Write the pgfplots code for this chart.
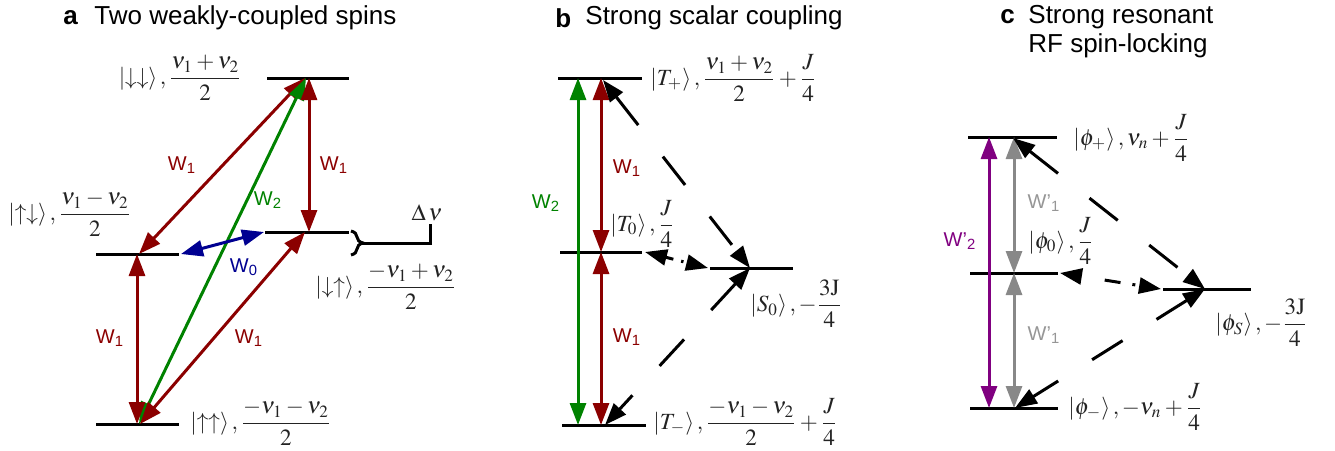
\documentclass[border=0pt]{standalone}
\usepackage{amsmath}
\usepackage{mathptmx}
\usepackage[no-math]{fontspec}
\setmainfont{Liberation Sans}
\usepackage{pgfplots}
\pgfplotsset{compat=1.18}
\usetikzlibrary{arrows.meta,decorations.pathreplacing}
\definecolor{dred}{RGB}{139,0,0}
\definecolor{dgreen}{RGB}{0,130,0}
\definecolor{dblue}{RGB}{0,0,145}
\definecolor{dpurple}{RGB}{128,0,128}
\definecolor{mgray}{RGB}{136,136,136}
\definecolor{lgray}{RGB}{150,150,150}
\definecolor{txt}{RGB}{35,35,35}
\tikzset{
  dbl/.style={line width=1.5pt, {Triangle[length=11pt,width=8pt]}-{Triangle[length=11pt,width=8pt]}},
  lvl/.style={line width=1.5pt, black},
  lab/.style={inner sep=0pt, text=txt, font=\fontsize{11.6}{14}\selectfont},
  wl/.style={inner sep=0pt, font=\fontsize{10}{12}\selectfont},
  ttl/.style={inner sep=0pt, anchor=west, font=\fontsize{13}{15}\selectfont},
  longdash/.style={dash pattern=on 18pt off 20pt},
  dotdash/.style={dash pattern=on 4pt off 4pt on 1.2pt off 20pt},
}
\begin{document}
\begin{tikzpicture}
\begin{axis}[hide axis, scale only axis, width=667.5pt, height=225pt,
  xmin=0, xmax=1335, ymin=0, ymax=450, y dir=reverse, clip=false]
\addplot[draw=none] coordinates {(0,0) (1335,450)};
% ---------------- panel a ----------------
\addplot[lvl] coordinates {(267,78) (349,78)};
\addplot[lvl] coordinates {(96,254) (179,254)};
\addplot[lvl] coordinates {(265,232) (349,232)};
\addplot[lvl] coordinates {(96,424) (179,424)};
\addplot[dbl, dred] coordinates {(139,254) (305,78)};
\addplot[dbl, dgreen] coordinates {(139,424) (306,78)};
\addplot[dbl, dred] coordinates {(309,78) (309,232)};
\addplot[dbl, dblue] coordinates {(181,254) (264,232)};
\addplot[dbl, dred] coordinates {(137,254) (137,424)};
\addplot[dbl, dred] coordinates {(140,424) (305,232)};
\addplot[line width=1.5pt, black] coordinates {(362,243) (430,243) (430,224)};
\draw[line width=1.5pt, decorate, decoration={brace, amplitude=6pt}] (axis cs:351,231) -- (axis cs:351,255);
\node[lab] at (axis cs:427,213) {$\Delta\,\nu$};
% ---------------- panel b ----------------
\addplot[lvl] coordinates {(558,78) (642,78)};
\addplot[lvl] coordinates {(560,252) (642,252)};
\addplot[lvl] coordinates {(710,268) (793,268)};
\addplot[lvl] coordinates {(562,425) (646,425)};
\addplot[dbl, dgreen] coordinates {(578,78) (578,425)};
\addplot[dbl, dred] coordinates {(601,78) (601,252)};
\addplot[dbl, dred] coordinates {(601,252) (601,425)};
\addplot[dbl, black, longdash] coordinates {(603,80) (750,268)};
\addplot[dbl, black, longdash] coordinates {(750,268) (605,425)};
\addplot[dbl, black, dotdash] coordinates {(645,252) (708,268)};
% ---------------- panel c ----------------
\addplot[lvl] coordinates {(968,137) (1057,137)};
\addplot[lvl] coordinates {(970,273) (1058,273)};
\addplot[lvl] coordinates {(1163,289) (1251,289)};
\addplot[lvl] coordinates {(970,408) (1058,408)};
\addplot[dbl, dpurple] coordinates {(989,137) (989,408)};
\addplot[dbl, mgray] coordinates {(1014,137) (1014,273)};
\addplot[dbl, mgray] coordinates {(1014,273) (1014,408)};
\addplot[dbl, black, longdash] coordinates {(1013,138) (1205,289)};
\addplot[dbl, black, longdash] coordinates {(1205,289) (1015,408)};
\addplot[dbl, black, dash pattern=on 0pt off 12pt on 8pt off 6pt on 1.5pt off 30pt] coordinates {(1060,273) (1161,289)};
% ---------------- titles ----------------
\node[ttl] at (axis cs:63,18) {\textbf{a}};
\node[ttl] at (axis cs:94,18) {Two weakly-coupled spins};
\node[ttl] at (axis cs:555,18) {\textbf{b}};
\node[ttl] at (axis cs:585,18) {Strong scalar coupling};
\node[ttl] at (axis cs:1000,17) {\textbf{c}};
\node[ttl] at (axis cs:1028,17) {Strong resonant};
\node[ttl] at (axis cs:1028,46) {RF spin-locking};
% ---------------- W labels ----------------
\node[wl, text=dred] at (axis cs:182,165) {W\textsubscript{1}};
\node[wl, text=dred] at (axis cs:334,165) {W\textsubscript{1}};
\node[wl, text=dgreen] at (axis cs:268,200) {W\textsubscript{2}};
\node[wl, text=dblue] at (axis cs:244,267) {W\textsubscript{0}};
\node[wl, text=dred] at (axis cs:110,338) {W\textsubscript{1}};
\node[wl, text=dred] at (axis cs:249,338) {W\textsubscript{1}};
\node[wl, text=dred] at (axis cs:627,168) {W\textsubscript{1}};
\node[wl, text=dred] at (axis cs:627,337) {W\textsubscript{1}};
\node[wl, text=dgreen] at (axis cs:546,203) {W\textsubscript{2}};
\node[wl, text=dpurple] at (axis cs:960,241) {W'\textsubscript{2}};
\node[wl, text=lgray] at (axis cs:1044,203) {W'\textsubscript{1}};
\node[wl, text=lgray] at (axis cs:1044,335) {W'\textsubscript{1}};
% ---------------- level labels ----------------
\node[lab, anchor=east] at (axis cs:242,78) {$\left|\downarrow\downarrow\right\rangle,\dfrac{\nu_1+\nu_2}{2}$};
\node[lab, anchor=west] at (axis cs:8,214) {$\left|\uparrow\downarrow\right\rangle,\dfrac{\nu_1-\nu_2}{2}$};
\node[lab, anchor=west] at (axis cs:315,287) {$\left|\downarrow\uparrow\right\rangle,\dfrac{-\nu_1+\nu_2}{2}$};
\node[lab, anchor=west] at (axis cs:190,423) {$\left|\uparrow\uparrow\right\rangle,\dfrac{-\nu_1-\nu_2}{2}$};
\node[lab, anchor=west] at (axis cs:650,78) {$\left|T_+\right\rangle,\dfrac{\nu_1+\nu_2}{2}+\dfrac{J}{4}$};
\node[lab, anchor=west] at (axis cs:610,224) {$\left|T_0\right\rangle,\dfrac{J}{4}$};
\node[lab, anchor=west] at (axis cs:750,304) {$\left|S_0\right\rangle,-\dfrac{\mathrm{3J}}{4}$};
\node[lab, anchor=west] at (axis cs:653,422) {$\left|T_-\right\rangle,\dfrac{-\nu_1-\nu_2}{2}+\dfrac{J}{4}$};
\node[lab, anchor=west] at (axis cs:1073,138) {$\left|\phi_+\right\rangle,\nu_n+\dfrac{J}{4}$};
\node[lab, anchor=west] at (axis cs:1028,241) {$\left|\phi_0\right\rangle,\dfrac{J}{4}$};
\node[lab, anchor=west] at (axis cs:1215,323) {$\left|\phi_S\right\rangle,-\dfrac{\mathrm{3J}}{4}$};
\node[lab, anchor=west] at (axis cs:1068,407) {$\left|\phi_-\right\rangle,-\nu_n+\dfrac{J}{4}$};
\end{axis}
\end{tikzpicture}
\end{document}
